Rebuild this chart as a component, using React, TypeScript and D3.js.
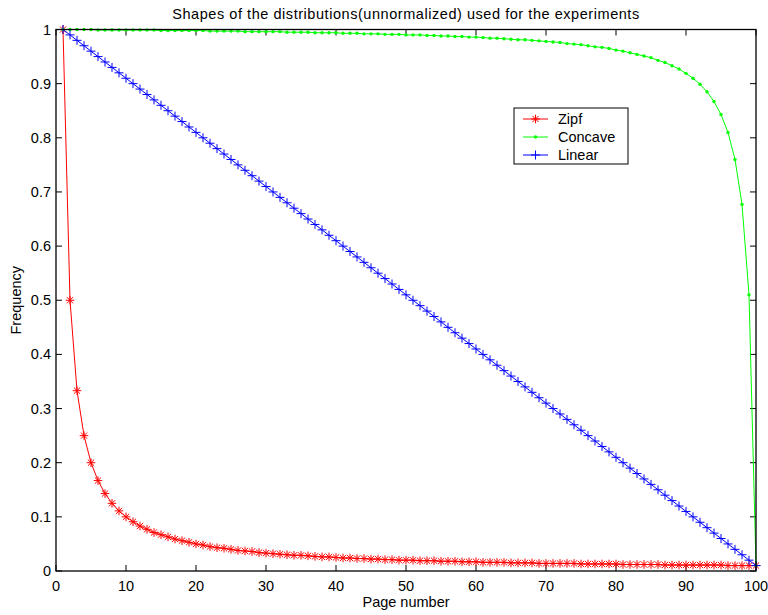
import React from "react";
import * as d3 from "d3";

// ---- data ----
const pages: number[] = d3.range(1, 101);

const zipf: number[] = [
  1.0, 0.5, 0.333, 0.25, 0.2, 0.167, 0.143, 0.125, 0.111, 0.1,
  0.091, 0.083, 0.077, 0.071, 0.067, 0.063, 0.059, 0.056, 0.053, 0.05,
  0.048, 0.045, 0.043, 0.042, 0.04, 0.038, 0.037, 0.036, 0.034, 0.033,
  0.032, 0.031, 0.03, 0.029, 0.029, 0.028, 0.027, 0.026, 0.026, 0.025,
  0.024, 0.024, 0.023, 0.023, 0.022, 0.022, 0.021, 0.021, 0.02, 0.02,
  0.02, 0.019, 0.019, 0.019, 0.018, 0.018, 0.018, 0.017, 0.017, 0.017,
  0.016, 0.016, 0.016, 0.016, 0.015, 0.015, 0.015, 0.015, 0.014, 0.014,
  0.014, 0.014, 0.014, 0.014, 0.013, 0.013, 0.013, 0.013, 0.013, 0.013,
  0.012, 0.012, 0.012, 0.012, 0.012, 0.012, 0.011, 0.011, 0.011, 0.011,
  0.011, 0.011, 0.011, 0.011, 0.011, 0.01, 0.01, 0.01, 0.01, 0.01,
];

const concave: number[] = [
  1.0, 1.0, 1.0, 1.0, 1.0, 0.999, 0.999, 0.999, 0.999, 0.999,
  0.999, 0.999, 0.999, 0.999, 0.998, 0.998, 0.998, 0.998, 0.998, 0.998,
  0.998, 0.997, 0.997, 0.997, 0.997, 0.997, 0.996, 0.996, 0.996, 0.996,
  0.996, 0.996, 0.995, 0.995, 0.995, 0.995, 0.994, 0.994, 0.994, 0.994,
  0.993, 0.993, 0.993, 0.992, 0.992, 0.992, 0.991, 0.991, 0.991, 0.99,
  0.99, 0.99, 0.989, 0.989, 0.988, 0.988, 0.987, 0.987, 0.986, 0.986,
  0.985, 0.984, 0.984, 0.983, 0.982, 0.981, 0.981, 0.98, 0.979, 0.978,
  0.977, 0.976, 0.974, 0.973, 0.972, 0.97, 0.968, 0.967, 0.965, 0.962,
  0.96, 0.957, 0.954, 0.951, 0.948, 0.943, 0.939, 0.933, 0.927, 0.919,
  0.91, 0.899, 0.885, 0.867, 0.843, 0.81, 0.76, 0.677, 0.51, 0.01,
];

const linear: number[] = [
  1.0, 0.99, 0.98, 0.97, 0.96, 0.95, 0.94, 0.93, 0.92, 0.91,
  0.9, 0.89, 0.88, 0.87, 0.86, 0.85, 0.84, 0.83, 0.82, 0.81,
  0.8, 0.79, 0.78, 0.77, 0.76, 0.75, 0.74, 0.73, 0.72, 0.71,
  0.7, 0.69, 0.68, 0.67, 0.66, 0.65, 0.64, 0.63, 0.62, 0.61,
  0.6, 0.59, 0.58, 0.57, 0.56, 0.55, 0.54, 0.53, 0.52, 0.51,
  0.5, 0.49, 0.48, 0.47, 0.46, 0.45, 0.44, 0.43, 0.42, 0.41,
  0.4, 0.39, 0.38, 0.37, 0.36, 0.35, 0.34, 0.33, 0.32, 0.31,
  0.3, 0.29, 0.28, 0.27, 0.26, 0.25, 0.24, 0.23, 0.22, 0.21,
  0.2, 0.19, 0.18, 0.17, 0.16, 0.15, 0.14, 0.13, 0.12, 0.11,
  0.1, 0.09, 0.08, 0.07, 0.06, 0.05, 0.04, 0.03, 0.02, 0.01,
];

const xTicks: number[] = [0, 10, 20, 30, 40, 50, 60, 70, 80, 90, 100];
const yTicks: number[] = [0, 0.1, 0.2, 0.3, 0.4, 0.5, 0.6, 0.7, 0.8, 0.9, 1];
const yTickLabels: string[] = ["0", "0.1", "0.2", "0.3", "0.4", "0.5", "0.6", "0.7", "0.8", "0.9", "1"];

const seriesNames: string[] = ["Zipf", "Concave", "Linear"];
const seriesColors: string[] = ["#ff0000", "#00ff00", "#0000ff"];
const seriesMarkers: string[] = ["star", "dot", "plus"];
const seriesValues: number[][] = [zipf, concave, linear];

const titleText = "Shapes of the distributions(unnormalized) used for the experiments";
const xLabel = "Page number";
const yLabel = "Frequency";

// ---- layout ----
const W = 768;
const H = 615;
const L = 56;
const R = 756;
const T = 29.5;
const B = 571;
const FONT = "'Liberation Sans', Arial, Helvetica, sans-serif";

function Marker({ kind, x, y, color }: { kind: string; x: number; y: number; color: string }) {
  if (kind === "dot") return <circle cx={x} cy={y} r={1.7} fill={color} />;
  if (kind === "plus") {
    const r = 4.5;
    return (
      <path d={`M${x - r},${y}H${x + r}M${x},${y - r}V${y + r}`} stroke={color} strokeWidth={1} fill="none" />
    );
  }
  const r = 4.3;
  const d = r * 0.72;
  return (
    <path
      d={`M${x - r},${y}H${x + r}M${x},${y - r}V${y + r}M${x - d},${y - d}L${x + d},${y + d}M${x - d},${y + d}L${x + d},${y - d}`}
      stroke={color}
      strokeWidth={1}
      fill="none"
    />
  );
}

export default function App() {
  const x = d3.scaleLinear().domain([0, 100]).range([L, R]);
  const y = d3.scaleLinear().domain([0, 1]).range([B, T]);
  const line = d3
    .line<[number, number]>()
    .x((d) => x(d[0]))
    .y((d) => y(d[1]));

  const tickLen = 6;

  return (
    <svg
      width={W}
      height={H}
      style={{ position: "absolute", left: 0, top: 0, display: "block", background: "#fff" }}
      fontFamily={FONT}
    >
      <rect x={0} y={0} width={W} height={H} fill="#fff" />
      {/* ticks */}
      {xTicks.map((t) => (
        <g key={"xt" + t}>
          <line x1={x(t)} x2={x(t)} y1={B} y2={B - tickLen} stroke="#000" strokeWidth={1} />
          <line x1={x(t)} x2={x(t)} y1={T} y2={T + tickLen} stroke="#000" strokeWidth={1} />
          <text x={x(t)} y={591} textAnchor="middle" fontSize={14.5} fill="#000">
            {t}
          </text>
        </g>
      ))}
      {yTicks.map((t, i) => (
        <g key={"yt" + t}>
          <line x1={L} x2={L + tickLen} y1={y(t)} y2={y(t)} stroke="#000" strokeWidth={1} />
          <line x1={R} x2={R - tickLen} y1={y(t)} y2={y(t)} stroke="#000" strokeWidth={1} />
          <text x={L - 5} y={y(t) + 5} textAnchor="end" fontSize={14.5} fill="#000">
            {yTickLabels[i]}
          </text>
        </g>
      ))}

      {/* series */}
      {seriesValues.map((vals, si) => {
        const pts: [number, number][] = pages.map((p, i) => [p, vals[i]]);
        return (
          <g key={"s" + si}>
            <path d={line(pts) || ""} fill="none" stroke={seriesColors[si]} strokeWidth={1} />
            {pts.map((p, i) => (
              <Marker key={i} kind={seriesMarkers[si]} x={x(p[0])} y={y(p[1])} color={seriesColors[si]} />
            ))}
          </g>
        );
      })}

      {/* axes box */}
      <rect x={L} y={T} width={R - L} height={B - T} fill="none" stroke="#000" strokeWidth={1.3} />

      {/* title & labels */}
      <text x={(L + R) / 2} y={19} textAnchor="middle" fontSize={14.5} letterSpacing={0.55} fill="#000">
        {titleText}
      </text>
      <text x={(L + R) / 2} y={607} textAnchor="middle" fontSize={14.5} fill="#000">
        {xLabel}
      </text>
      <text
        transform={`translate(21,${(T + B) / 2}) rotate(-90)`}
        textAnchor="middle"
        fontSize={14.5}
        fill="#000"
      >
        {yLabel}
      </text>

      {/* legend */}
      <g>
        <rect x={514} y={108} width={114} height={56} fill="#fff" stroke="#000" strokeWidth={1} />
        {seriesNames.map((n, i) => {
          const ly = 119 + i * 18;
          return (
            <g key={n}>
              <line x1={523} x2={548} y1={ly} y2={ly} stroke={seriesColors[i]} strokeWidth={1} />
              <Marker kind={seriesMarkers[i]} x={535.5} y={ly} color={seriesColors[i]} />
              <text x={558} y={ly + 5} fontSize={14.5} fill="#000">
                {n}
              </text>
            </g>
          );
        })}
      </g>
    </svg>
  );
}
